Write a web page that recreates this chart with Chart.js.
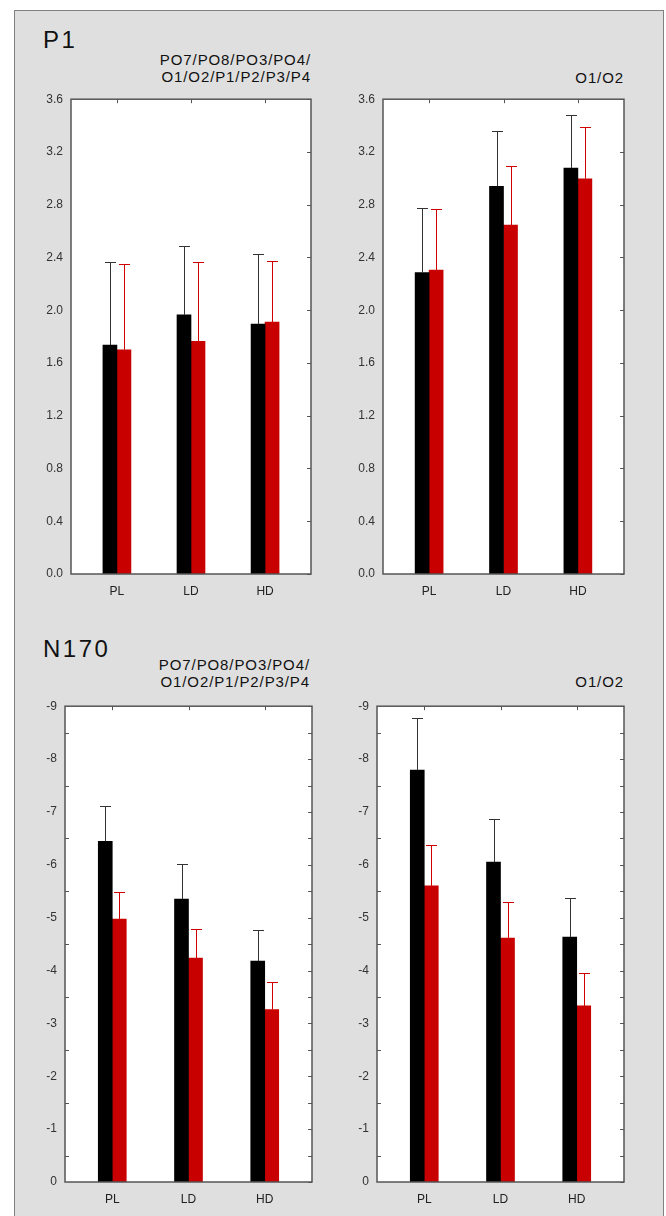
<!DOCTYPE html>
<html>
<head>
<meta charset="utf-8">
<script src="https://cdn.jsdelivr.net/npm/chart.js@4.4.1/dist/chart.umd.min.js"></script>
<style>
  body { margin: 0; background: #fff; width: 666px; height: 1216px; overflow: hidden; position: relative;
         font-family: "Liberation Sans", Arial, sans-serif; }
  #frame { position: absolute; left: 14px; top: 10px; width: 648px; height: 1220px; background: #dfdfdf; border: 1px solid #808080; }
  .big { position: absolute; font-size: 24px; line-height: 24px; letter-spacing: 2.5px; color: #111; }
  .sub { position: absolute; font-size: 15px; line-height: 16.5px; letter-spacing: 0.9px; color: #111; text-align: right; white-space: nowrap; }
  canvas { position: absolute; }
</style>
</head>
<body>
<div id="frame"></div>
<div class="big" style="left:43px; top:28px;">P1</div>
<div class="sub" style="right:355px; top:52px;">PO7/PO8/PO3/PO4/<br>O1/O2/P1/P2/P3/P4</div>
<div class="sub" style="right:42px; top:70px;">O1/O2</div>
<div class="big" style="left:43px; top:637px;">N170</div>
<div class="sub" style="right:356px; top:657px;">PO7/PO8/PO3/PO4/<br>O1/O2/P1/P2/P3/P4</div>
<div class="sub" style="right:42px; top:674px;">O1/O2</div>

<canvas id="p1all" width="300" height="520" style="left:21px; top:84px; width:300px; height:520px;"></canvas>
<canvas id="p1occ" width="301" height="520" style="left:333px; top:84px; width:301px; height:520px;"></canvas>
<canvas id="n170all" width="307" height="521" style="left:15px; top:691px; width:307px; height:521px;"></canvas>
<canvas id="n170occ" width="307" height="521" style="left:327px; top:691px; width:307px; height:521px;"></canvas>

<script>
var categories = ['PL', 'LD', 'HD'];

var p1Ticks = ['0.0', '0.4', '0.8', '1.2', '1.6', '2.0', '2.4', '2.8', '3.2', '3.6'];
var n170Ticks = ['0', '-1', '-2', '-3', '-4', '-5', '-6', '-7', '-8', '-9'];

// P1, PO7/PO8/PO3/PO4/O1/O2/P1/P2/P3/P4
var p1AllBlack = [1.735, 1.965, 1.895];
var p1AllBlackErr = [0.63, 0.52, 0.53];
var p1AllRed = [1.70, 1.765, 1.91];
var p1AllRedErr = [0.65, 0.60, 0.465];

// P1, O1/O2
var p1OccBlack = [2.285, 2.94, 3.078];
var p1OccBlackErr = [0.49, 0.42, 0.40];
var p1OccRed = [2.305, 2.645, 2.997];
var p1OccRedErr = [0.46, 0.45, 0.39];

// N170, PO7/PO8/PO3/PO4/O1/O2/P1/P2/P3/P4
var n170AllBlack = [-6.445, -5.35, -4.18];
var n170AllBlackErr = [0.665, 0.665, 0.59];
var n170AllRed = [-4.975, -4.235, -3.263];
var n170AllRedErr = [0.515, 0.555, 0.515];

// N170, O1/O2
var n170OccBlack = [-7.79, -6.05, -4.635];
var n170OccBlackErr = [0.99, 0.825, 0.73];
var n170OccRed = [-5.60, -4.616, -3.33];
var n170OccRedErr = [0.77, 0.675, 0.625];

var BLACK = '#000000';
var RED = '#c80000';
var AXIS = '#555555';

// white plot area, error bars, frame and inward ticks
var panelPlugin = {
  id: 'panel',
  beforeDraw: function(chart) {
    var a = chart.chartArea, ctx = chart.ctx;
    ctx.save();
    ctx.fillStyle = '#ffffff';
    ctx.fillRect(a.left, a.top, a.right - a.left, a.bottom - a.top);
    ctx.restore();
  },
  afterDatasetsDraw: function(chart) {
    var ctx = chart.ctx, y = chart.scales.y;
    ctx.save();
    ctx.lineWidth = 1;
    chart.data.datasets.forEach(function(ds, i) {
      var meta = chart.getDatasetMeta(i);
      ctx.strokeStyle = ds.whiskerColor;
      meta.data.forEach(function(bar, j) {
        var v = ds.data[j].y, e = ds.errors[j];
        var top = y.getPixelForValue(v < 0 ? v - e : v + e);
        var x = Math.round(bar.x) + 0.5;
        ctx.beginPath();
        ctx.moveTo(x, bar.y);
        ctx.lineTo(x, Math.round(top) + 0.5);
        ctx.moveTo(x - 5.5, Math.round(top) + 0.5);
        ctx.lineTo(x + 5.5, Math.round(top) + 0.5);
        ctx.stroke();
      });
    });
    ctx.restore();
  },
  afterDraw: function(chart) {
    var a = chart.chartArea, ctx = chart.ctx, y = chart.scales.y, x = chart.scales.x;
    var minor = chart.options.plugins.panel.minor;
    ctx.save();
    ctx.strokeStyle = AXIS;
    ctx.lineWidth = 1;
    ctx.beginPath();
    var vals = y.ticks.map(function(t) { return t.value; });
    vals.forEach(function(v, k) {
      var py = Math.round(y.getPixelForValue(v)) + 0.5;
      ctx.moveTo(a.right - 4, py); ctx.lineTo(a.right, py);
      if (minor && k > 0) {
        var m = Math.round(y.getPixelForValue((v + vals[k - 1]) / 2)) + 0.5;
        ctx.moveTo(a.right - 4, m); ctx.lineTo(a.right, m);
        ctx.moveTo(a.left, m); ctx.lineTo(a.left + 4, m);
      }
    });
    x.ticks.forEach(function(t) {
      var px = Math.round(x.getPixelForValue(t.value)) + 0.5;
      ctx.moveTo(px, a.top); ctx.lineTo(px, a.top + 4);
    });
    ctx.stroke();
    ctx.lineWidth = 1.5;
    ctx.strokeRect(a.left, a.top, a.right - a.left, a.bottom - a.top);
    ctx.restore();
  }
};

function makePanel(id, black, blackErr, red, redErr, tickLabels, minor) {
  var tickVals = tickLabels.map(parseFloat);
  var lo = Math.min.apply(null, tickVals), hi = Math.max.apply(null, tickVals);
  var negative = hi <= 0;
  return new Chart(document.getElementById(id), {
    type: 'bar',
    data: {
      datasets: [{
        data: categories.map(function(c, i) { return { x: i, y: black[i] }; }),
        errors: blackErr,
        backgroundColor: BLACK,
        whiskerColor: '#333333',
        barThickness: 14
      }, {
        data: categories.map(function(c, i) { return { x: i, y: red[i] }; }),
        errors: redErr,
        backgroundColor: RED,
        whiskerColor: '#d00000',
        barThickness: 14
      }]
    },
    options: {
      responsive: false,
      animation: false,
      layout: { padding: { left: 0, top: 10, right: 10, bottom: 0 } },
      plugins: {
        legend: { display: false },
        tooltip: { enabled: false },
        panel: { minor: minor }
      },
      scales: {
        x: {
          type: 'linear',
          offset: false,
          min: -0.62,
          max: 2.62,
          grid: { display: false, offset: false, drawTicks: false },
          border: { display: false },
          afterBuildTicks: function(s) { s.ticks = categories.map(function(c, i) { return { value: i }; }); },
          afterFit: function(s) { s.height = 30; },
          ticks: {
            padding: 10,
            color: '#222',
            font: { family: 'Liberation Sans', size: 12 },
            callback: function(v) { return categories[v]; }
          }
        },
        y: {
          min: lo,
          max: hi,
          reverse: negative,
          grid: { display: false, drawTicks: false },
          border: { display: false },
          afterBuildTicks: function(s) { s.ticks = tickVals.map(function(v) { return { value: v }; }); },
          afterFit: function(s) { s.width = 50; },
          ticks: {
            padding: 8,
            color: '#333',
            font: { family: 'Liberation Sans', size: 12 },
            callback: function(v, i) { return tickLabels[i]; }
          }
        }
      }
    },
    plugins: [panelPlugin]
  });
}

makePanel('p1all', p1AllBlack, p1AllBlackErr, p1AllRed, p1AllRedErr, p1Ticks, false);
makePanel('p1occ', p1OccBlack, p1OccBlackErr, p1OccRed, p1OccRedErr, p1Ticks, false);
makePanel('n170all', n170AllBlack, n170AllBlackErr, n170AllRed, n170AllRedErr, n170Ticks, true);
makePanel('n170occ', n170OccBlack, n170OccBlackErr, n170OccRed, n170OccRedErr, n170Ticks, true);
</script>
</body>
</html>
